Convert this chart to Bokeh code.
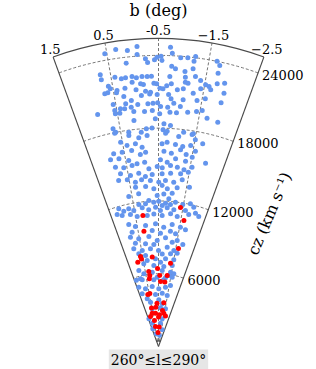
import numpy as np
from bokeh.plotting import figure
from bokeh.models import Label, Range1d
from bokeh.embed import file_html
from bokeh.resources import INLINE

# ---------------- data (galactic latitude b in deg, redshift cz in km/s) -------------
blue_b = [0.32, 0.10, -0.09, 0.54, -0.08, 0.15, -0.24, -0.28, -0.42, -0.47, -0.55, -0.57, -0.73, -0.77,
          -0.94, -1.08, -1.23, -1.21, -1.66, -1.73, -0.77, -0.85, -1.05, -1.21, 0.71, 0.71, 0.42, 0.29,
          0.20, 0.06, -0.03, -0.15, -0.26, -0.35, -0.74, -1.07, -1.28, -1.73, 0.07, -0.11, -0.17, -0.40,
          -0.46, -0.68, -0.78, -1.08, -1.14, -1.40, -1.52, -1.60, -1.76, -1.91, 0.59, 0.56, 0.42, 0.24,
          0.00, -0.21, -0.32, -0.53, -0.60, -0.92, -1.05, -1.28, -1.43, -1.65, -1.95, 0.70, 0.63, 0.44,
          0.29, 0.13, -0.11, -0.30, -0.47, -0.73, -0.79, -1.07, -1.39, -1.57, -1.94, 0.56, 0.27, 0.15,
          -0.01, -0.25, -0.37, -0.48, -0.55, -0.72, -0.86, -1.02, -1.55, 0.97, 0.55, 0.41, 0.31, 0.55,
          0.44, 0.10, -0.16, -0.35, -0.53, -0.78, -0.94, -1.21, -1.42, -1.70, -1.98, 0.12, -0.42, -0.64,
          0.68, 0.63, 0.29, -0.04, -0.18, -0.33, -0.62, -0.73, -0.81, -1.17, -1.43, 0.66, 0.30, 0.04,
          -0.19, -0.69, -1.05, -1.40, -1.51, 0.55, 0.39, 0.15, -0.03, -0.60, -0.74, -0.98, -1.19, -1.41,
          -1.73, 0.81, 0.56, 0.28, 0.04, -0.12, -0.66, -0.88, -1.14, -1.32, -1.57, 0.94, 0.69, 0.41,
          0.17, -0.07, -0.56, -0.77, -1.02, -1.33, -1.94, -1.51, 0.85, 0.60, 0.33, -0.19, -0.46, -0.62,
          -0.88, -1.10, -1.32, -1.56, 0.74, 0.43, 0.15, -0.06, -0.29, -0.62, -0.90, -1.23, -1.47, 0.85,
          0.56, 0.30, 0.08, -0.22, -0.51, -0.74, -1.03, -1.31, 0.32, -0.04, -0.33, -0.63, -0.82, -1.17,
          -1.60, 0.24, -0.45, -0.70, -1.01, 0.62, -0.90, -0.12, -0.31, -0.51, -0.78, -1.17, 0.29, 0.02,
          -0.65, -0.98, -1.47, -1.76, 0.72, 0.53, 0.17, -0.09, -0.38, -0.58, -0.86, -1.14, -1.62, -1.92,
          0.94, 1.05, 0.70, 0.43, -0.01, -0.30, -0.66, -1.02, -1.32, -1.79, -2.05, -2.22, 1.11, 1.24,
          0.87, 0.59, 0.11, -0.36, -0.75, -1.14, -1.54, 0.80, -0.19, -0.60, -1.09, -1.36, -1.80, 0.94,
          0.54, 0.00, -0.43, -0.87, -1.25, 0.76, 0.22, -0.24, -1.50, -1.84, 0.92, 0.46, -0.03, -0.50,
          -1.00, -1.41, 0.70, -0.73, -1.24, -1.63, 0.31, -0.30, -0.64, -0.96, -1.50, 0.51, 0.25, -0.17,
          -0.88, -1.46, 0.95, 0.64, -0.02, -0.78, -1.42, 0.99, -0.39, -0.95, -1.62, -1.33, -1.69, 1.35,
          0.87, -0.10, -1.08, 1.34, 0.77, 0.10, -0.53, -1.17, -1.61, 1.22, -0.17, -0.90, -1.47, 0.83,
          -0.54, 0.52, -1.00, 0.45, -0.80, -1.55, 1.40, -1.26, 1.01, -0.99, 1.29, -1.75, 0.53, -1.02]
blue_cz = [24740, 24540, 24795, 24533, 24137, 23507, 23742, 23430, 23636, 23850, 23932, 23578, 24694, 24206,
           23869, 23922, 24102, 23699, 24014, 23710, 23130, 22937, 22775, 23071, 22903, 22484, 22492, 22283,
           22318, 22364, 22227, 22299, 22279, 22284, 22279, 22312, 22466, 23062, 21898, 21707, 21636, 21707,
           21657, 21517, 21683, 21902, 21841, 22201, 21920, 21833, 22190, 22380, 21856, 21611, 21379, 21475,
           21242, 21074, 20965, 21294, 21245, 21219, 21343, 21076, 21525, 21592, 21565, 21297, 21329, 21199,
           20808, 20404, 20740, 20833, 20775, 20792, 20447, 20440, 20529, 20786, 20746, 20298, 20192, 19856,
           20024, 20028, 20058, 20091, 19786, 19743, 20098, 19869, 19787, 19770, 19787, 19845, 19792, 19508,
           19496, 19480, 19408, 19456, 19184, 19339, 19324, 19467, 19625, 19245, 19127, 18743, 18772, 18359,
           18331, 18019, 17837, 17725, 17974, 18030, 17865, 17760, 18246, 17791, 17766, 17950, 17567, 17282,
           17419, 17584, 17393, 17696, 17311, 17130, 16769, 16817, 16484, 16710, 16857, 16711, 16610, 16779,
           17104, 16307, 16295, 16310, 15898, 16053, 16100, 15972, 16316, 15993, 16387, 15892, 15816, 15529,
           15164, 15236, 15392, 15211, 15537, 15438, 15599, 15851, 15202, 15008, 15079, 14672, 14839, 14732,
           14955, 14862, 14716, 15041, 14577, 14284, 14378, 14056, 14180, 14237, 14321, 14352, 14576, 14071,
           13984, 13678, 13814, 13701, 13545, 13697, 13603, 13880, 13270, 13234, 13001, 13273, 13020, 13173,
           13380, 12693, 12448, 12589, 12688, 12606, 12205, 12062, 11896, 11978, 11828, 11978, 11818, 11812,
           11624, 11748, 11876, 12056, 11613, 11396, 11514, 11297, 11484, 11212, 11458, 11339, 11431, 11847,
           11514, 11207, 11124, 10860, 10840, 10940, 10800, 10985, 10827, 11165, 11405, 11221, 11815, 11402,
           10352, 10073, 10033, 10115, 9845, 10121, 10001, 9669, 9577, 9340, 9556, 9396, 9875, 9302,
           9026, 9103, 8739, 8979, 8673, 8725, 8535, 8418, 8874, 8644, 8308, 8027, 8081, 7914,
           8217, 8014, 7812, 7642, 7706, 7845, 7578, 7230, 6950, 7253, 7259, 6925, 7151, 6689,
           6610, 6773, 6472, 6114, 6147, 6265, 6205, 5775, 5713, 5517, 5823, 5914, 6124, 5762,
           5661, 5512, 5693, 5151, 4876, 4974, 4757, 4923, 5125, 4548, 4294, 4405, 4265, 4041,
           3850, 3711, 3533, 3151, 3190, 3161, 2420, 2304, 1990, 1921, 1533, 1410, 1064, 907]

red_b = [-1.40, 0.18, -1.64, 0.22, -1.65, 0.63, 0.88, 0.60, -0.10, -1.32, -0.43, 0.24, -0.60, 0.27,
         -0.68, -1.06, 0.43, 0.66, -0.30, -1.19, 0.53, -0.11, 0.57, 0.01, -0.68, -1.40, -1.79, 0.99,
         -0.51, 0.38, 0.35, -0.71, -0.30, -1.20, 0.20, -1.13]
red_cz = [11601, 10878, 10598, 9580, 8245, 7567, 7156, 7349, 7397, 6938, 6430, 6234, 5853, 5633,
          5359, 5343, 4428, 4377, 3570, 3629, 3226, 3240, 2794, 2756, 2613, 2780, 2580, 2560,
          2432, 2168, 1667, 1608, 1154, 5897, 5897, 2986]

b_ticks = [1.5, 0.5, -0.5, -1.5, -2.5]
b_tick_labels = ["1.5", "0.5", "-0.5", "\u22121.5", "\u22122.5"]
b_grid = [0.5, -0.5, -1.5]
cz_ticks = [6000, 12000, 18000, 24000]
cz_tick_labels = ["6000", "12000", "18000", "24000"]

B_LEFT, B_RIGHT, B_CENTER = 1.5, -2.5, -0.5
CZ_MAX, CZ_MIN = 25400, 450
STRETCH = 10.0          # angular stretch of the wedge
K = 0.01213             # px per km/s


def polar(b, cz):
    th = np.radians((np.asarray(b, dtype=float) - B_CENTER) * STRETCH)
    cz = np.asarray(cz, dtype=float)
    return -cz * np.sin(th), cz * np.cos(th)


W, H = 316, 369
APEX_X, APEX_Y = 158, 346   # apex position on the canvas (px from top-left)
x0 = -APEX_X / K
y0 = -(H - APEX_Y) / K
p = figure(width=W, height=H, output_backend="svg", toolbar_location=None,
           x_range=Range1d(x0, x0 + W / K), y_range=Range1d(y0, y0 + H / K),
           x_axis_type=None, y_axis_type=None, min_border=0,
           outline_line_color=None)
p.grid.visible = False

FONT = "DejaVu Serif"
EDGE = "#4a4a4a"
GRID = "#666666"

# dashed grid arcs and radial lines
a_left = np.pi / 2 + np.radians((B_LEFT - B_CENTER) * STRETCH)
a_right = np.pi / 2 + np.radians((B_RIGHT - B_CENTER) * STRETCH)
p.arc(x=[0] * len(cz_ticks), y=[0] * len(cz_ticks), radius=cz_ticks,
      start_angle=a_right, end_angle=a_left, direction="anticlock",
      line_color=GRID, line_width=0.9, line_dash="3 2")
gx0, gy0 = polar(b_grid, [CZ_MIN] * len(b_grid))
gx1, gy1 = polar(b_grid, [CZ_MAX] * len(b_grid))
p.segment(x0=gx0, y0=gy0, x1=gx1, y1=gy1, line_color=GRID, line_width=0.9, line_dash="3 2")

# wedge outline
ex, ey = polar([B_LEFT, B_RIGHT], [CZ_MAX, CZ_MAX])
p.segment(x0=[0, 0], y0=[0, 0], x1=ex, y1=ey, line_color=EDGE, line_width=1.1)
p.arc(x=[0, 0], y=[0, 0], radius=[CZ_MAX, CZ_MIN], start_angle=a_right, end_angle=a_left,
      direction="anticlock", line_color=EDGE, line_width=1.1)

# galaxies
bx, by = polar(blue_b, blue_cz)
p.scatter(bx, by, size=5, fill_color="#6495ED", line_color=None)
rx, ry = polar(red_b, red_cz)
p.scatter(rx, ry, size=5, fill_color="#FF0000", line_color=None)

# b tick labels along the outer arc
tx, ty = polar(b_ticks, [CZ_MAX + 8.5 / K] * len(b_ticks))
p.text(x=tx, y=ty, text=b_tick_labels, text_align="center", text_baseline="middle",
       text_font={"value": FONT}, text_font_size="13px", text_color="black")

# cz tick labels along the right edge
cx, cy = polar([B_RIGHT] * len(cz_ticks), cz_ticks)
p.text(x=cx, y=cy, text=cz_tick_labels, x_offset=4, y_offset=2, text_align="left",
       text_baseline="middle", text_font={"value": FONT}, text_font_size="13px", text_color="black")

# axis titles
p.text(x=[0], y=[(APEX_Y - 9.5) / K], text=["b (deg)"], text_align="center", text_baseline="middle",
       text_font={"value": FONT}, text_font_size="16px", text_color="black")
p.text(x=[(269 - APEX_X) / K], y=[(APEX_Y - 213) / K], text=["cz (km s\u207b\u00b9)"],
       angle=np.radians(67), text_align="center", text_baseline="middle",
       text_font={"value": FONT}, text_font_size="16px", text_color="black")

p.add_layout(Label(x=0, y=(APEX_Y - 359) / K, text="260\u00b0\u2264l\u2264290\u00b0",
                   text_align="center", text_baseline="middle", text_font=FONT,
                   text_font_size="14px", text_color="black",
                   background_fill_color="#e6e6e6", padding=2))

open("out.html", "w").write(file_html(p, INLINE))
